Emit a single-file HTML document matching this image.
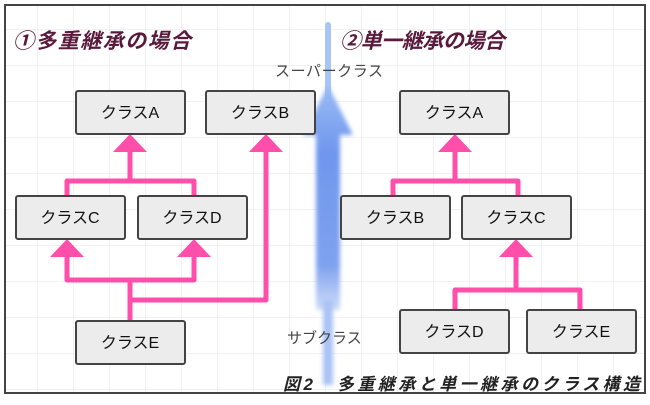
<!DOCTYPE html>
<html><head><meta charset="utf-8"><style>
body{margin:0;background:#fff;}
svg text{font-family:"Liberation Sans","Noto Sans CJK JP",sans-serif;}
</style></head><body>
<svg width="650" height="400" xmlns="http://www.w3.org/2000/svg">
<defs>
<pattern id="g" width="36" height="36" patternUnits="userSpaceOnUse" x="1" y="29">
<path d="M0 0H36M0 0V36" stroke="#e6e6e6" stroke-width="1" fill="none"/>
</pattern>
<linearGradient id="bl" x1="0" y1="0" x2="0" y2="1">
<stop offset="0" stop-color="#9cbcf5"/><stop offset="0.3" stop-color="#6f97ee"/>
<stop offset="0.8" stop-color="#7fa2ef"/><stop offset="1" stop-color="#cfdcf8"/>
</linearGradient>
<filter id="bf"><feGaussianBlur stdDeviation="2"/></filter>
</defs>
<rect x="0" y="0" width="650" height="400" fill="#fff"/>
<rect x="5" y="5" width="640" height="388" fill="url(#g)" stroke="#444" stroke-width="2"/>
<rect x="325" y="22" width="6" height="80" rx="3" fill="#a9c4f6"/>
<g filter="url(#bf)">
<polygon points="328,85 353,135 340,135 340,310 316,310 316,135 303,135" fill="url(#bl)"/>
<rect x="323" y="300" width="10" height="85" fill="#aac3f5"/>
</g>
<text x="275" y="76" font-size="15" fill="#444" textLength="108">スーパークラス</text>
<text x="287" y="343" font-size="15" fill="#444">サブクラス</text>
<g font-size="21" font-weight="bold" font-style="italic" fill="#5a1a3c">
<text x="13" y="48" textLength="178">①多重継承の場合</text>
<text x="340" y="48" textLength="165">②単一継承の場合</text>
</g>
<text x="283" y="390" font-size="17" font-weight="bold" font-style="italic" fill="#222" textLength="357">図2　多重継承と単一継承のクラス構造</text>
<g stroke="#ff4fab" stroke-width="5" fill="none" stroke-linejoin="round">
<path d="M130 150V181M67 196V181H194V196"/>
<path d="M266 150V300H130"/>
<path d="M67 255V280H194V255M130 280V322"/>
<path d="M455 150V181M393 196V181H518V196"/>
<path d="M516 255V290M455 312V290H580V312"/>
</g>
<g fill="#ff4fab">
<polygon points="130,134 113,152 147,152"/>
<polygon points="266,134 249,152 283,152"/>
<polygon points="67,239 50,257 84,257"/>
<polygon points="194,239 177,257 211,257"/>
<polygon points="455,134 438,152 472,152"/>
<polygon points="516,239 499,257 533,257"/>
</g>
<g fill="#ececec" stroke="#444" stroke-width="2">
<rect x="76" y="91" width="109" height="43" rx="2"/>
<rect x="206" y="91" width="109" height="43" rx="2"/>
<rect x="16" y="196" width="109" height="43" rx="2"/>
<rect x="138" y="196" width="109" height="43" rx="2"/>
<rect x="76" y="321" width="109" height="43" rx="2"/>
<rect x="400" y="91" width="109" height="43" rx="2"/>
<rect x="341" y="196" width="109" height="43" rx="2"/>
<rect x="462" y="196" width="109" height="43" rx="2"/>
<rect x="400" y="310" width="109" height="43" rx="2"/>
<rect x="527" y="310" width="109" height="43" rx="2"/>
</g>
<g font-size="16" fill="#111" text-anchor="middle">
<text x="130" y="118">クラスA</text>
<text x="260" y="118">クラスB</text>
<text x="70" y="223">クラスC</text>
<text x="192" y="223">クラスD</text>
<text x="130" y="348">クラスE</text>
<text x="454" y="118">クラスA</text>
<text x="395" y="223">クラスB</text>
<text x="516" y="223">クラスC</text>
<text x="454" y="337">クラスD</text>
<text x="581" y="337">クラスE</text>
</g>
</svg>
</body></html>
